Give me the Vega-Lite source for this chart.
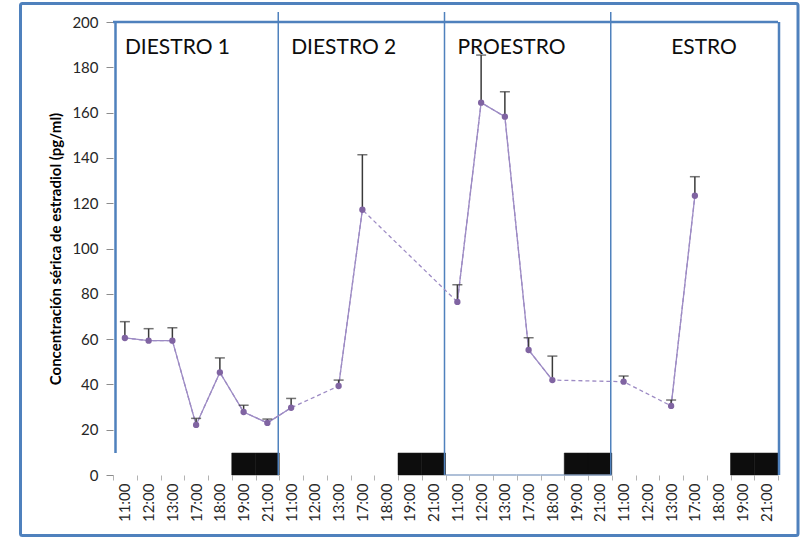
{
  "$schema": "https://vega.github.io/schema/vega-lite/v6.json",
  "width": 665,
  "height": 453,
  "autosize": {"type": "none"},
  "padding": {"left": 113, "top": 22, "right": 25, "bottom": 64},
  "config": {
    "view": {"stroke": null},
    "font": "Lato",
    "axis": {"grid": false, "labelFont": "Lato", "titleFont": "Lato"}
  },
  "datasets": {
    "estradiol": [
      {"punto": "1 11:00", "fase": "DIESTRO 1", "hora": "11:00", "media": 60.5, "ee": 7.2},
      {"punto": "1 12:00", "fase": "DIESTRO 1", "hora": "12:00", "media": 59.3, "ee": 5.3},
      {"punto": "1 13:00", "fase": "DIESTRO 1", "hora": "13:00", "media": 59.3, "ee": 5.7},
      {"punto": "1 17:00", "fase": "DIESTRO 1", "hora": "17:00", "media": 22.1, "ee": 2.9},
      {"punto": "1 18:00", "fase": "DIESTRO 1", "hora": "18:00", "media": 45.3, "ee": 6.4},
      {"punto": "1 19:00", "fase": "DIESTRO 1", "hora": "19:00", "media": 27.8, "ee": 3.0},
      {"punto": "1 21:00", "fase": "DIESTRO 1", "hora": "21:00", "media": 23.0, "ee": 1.7},
      {"punto": "2 11:00", "fase": "DIESTRO 2", "hora": "11:00", "media": 29.7, "ee": 4.1},
      {"punto": "2 12:00", "fase": "DIESTRO 2", "hora": "12:00", "media": null, "ee": null},
      {"punto": "2 13:00", "fase": "DIESTRO 2", "hora": "13:00", "media": 39.3, "ee": 2.6},
      {"punto": "2 17:00", "fase": "DIESTRO 2", "hora": "17:00", "media": 117.1, "ee": 24.3},
      {"punto": "2 18:00", "fase": "DIESTRO 2", "hora": "18:00", "media": null, "ee": null},
      {"punto": "2 19:00", "fase": "DIESTRO 2", "hora": "19:00", "media": null, "ee": null},
      {"punto": "2 21:00", "fase": "DIESTRO 2", "hora": "21:00", "media": null, "ee": null},
      {"punto": "3 11:00", "fase": "PROESTRO", "hora": "11:00", "media": 76.4, "ee": 7.6},
      {"punto": "3 12:00", "fase": "PROESTRO", "hora": "12:00", "media": 164.4, "ee": 21.0},
      {"punto": "3 13:00", "fase": "PROESTRO", "hora": "13:00", "media": 158.2, "ee": 11.0},
      {"punto": "3 17:00", "fase": "PROESTRO", "hora": "17:00", "media": 55.2, "ee": 5.4},
      {"punto": "3 18:00", "fase": "PROESTRO", "hora": "18:00", "media": 41.9, "ee": 10.6},
      {"punto": "3 19:00", "fase": "PROESTRO", "hora": "19:00", "media": null, "ee": null},
      {"punto": "3 21:00", "fase": "PROESTRO", "hora": "21:00", "media": null, "ee": null},
      {"punto": "4 11:00", "fase": "ESTRO", "hora": "11:00", "media": 41.2, "ee": 2.5},
      {"punto": "4 12:00", "fase": "ESTRO", "hora": "12:00", "media": null, "ee": null},
      {"punto": "4 13:00", "fase": "ESTRO", "hora": "13:00", "media": 30.5, "ee": 2.6},
      {"punto": "4 17:00", "fase": "ESTRO", "hora": "17:00", "media": 123.3, "ee": 8.4},
      {"punto": "4 18:00", "fase": "ESTRO", "hora": "18:00", "media": null, "ee": null},
      {"punto": "4 19:00", "fase": "ESTRO", "hora": "19:00", "media": null, "ee": null},
      {"punto": "4 21:00", "fase": "ESTRO", "hora": "21:00", "media": null, "ee": null}
    ],
    "fases": [
      {"fase": "DIESTRO 1", "punto": "1 11:00"},
      {"fase": "DIESTRO 2", "punto": "2 11:00"},
      {"fase": "PROESTRO", "punto": "3 11:00"},
      {"fase": "ESTRO", "punto": "4 13:00"}
    ]
  },
  "resolve": {"scale": {"x": "independent"}},
  "layer": [
    {
      "description": "outer frame around the whole figure",
      "data": {"values": [{}]},
      "mark": {"type": "rect", "fillOpacity": 0, "stroke": "#4F81BD", "strokeWidth": 3, "cornerRadius": 2, "clip": false},
      "encoding": {
        "x": {"datum": -0.1391, "type": "quantitative", "scale": {"domain": [0, 1]}, "axis": null},
        "x2": {"datum": 1.0301},
        "y": {"datum": 208.2, "type": "quantitative"},
        "y2": {"datum": -26.7}
      }
    },
    {
      "description": "top edge of the phase boxes",
      "data": {"values": [{}]},
      "mark": {"type": "rule", "stroke": "#4F81BD", "strokeWidth": 2.5},
      "encoding": {
        "y": {"datum": 200, "type": "quantitative"}
      }
    },
    {
      "data": {"name": "estradiol"},
      "encoding": {
        "x": {
          "field": "punto",
          "type": "ordinal",
          "title": null,
          "scale": {
            "type": "band",
            "paddingInner": 0,
            "paddingOuter": 0,
            "domain": [
              "1 11:00", "1 12:00", "1 13:00", "1 17:00", "1 18:00", "1 19:00", "1 21:00",
              "2 11:00", "2 12:00", "2 13:00", "2 17:00", "2 18:00", "2 19:00", "2 21:00",
              "3 11:00", "3 12:00", "3 13:00", "3 17:00", "3 18:00", "3 19:00", "3 21:00",
              "4 11:00", "4 12:00", "4 13:00", "4 17:00", "4 18:00", "4 19:00", "4 21:00"
            ]
          },
          "axis": {
            "labelExpr": "split(datum.value, ' ')[1]",
            "labelAngle": -90,
            "labelFontSize": 15,
            "labelColor": "#262626",
            "labelPadding": 3,
            "tickBand": "extent",
            "tickSize": 5,
            "tickColor": "#b3b3b3",
            "domain": false
          }
        }
      },
      "layer": [
        {
          "description": "dark period bars (19:00-21:00)",
          "transform": [{"filter": "datum.hora == '19:00' || datum.hora == '21:00'"}],
          "mark": {"type": "bar", "color": "#0d0d0d", "stroke": "#0d0d0d", "strokeWidth": 0.5},
          "encoding": {
            "y": {"datum": 0, "type": "quantitative"},
            "y2": {"datum": 9.7}
          }
        },
        {
          "description": "bottom edge of the PROESTRO box",
          "transform": [{"filter": "datum.fase == 'PROESTRO'"}],
          "mark": {"type": "bar", "color": "#8aa3c6"},
          "encoding": {
            "y": {"datum": -0.3, "type": "quantitative"},
            "y2": {"datum": 0.3}
          }
        },
        {
          "description": "phase dividers",
          "transform": [{"filter": "datum.hora == '11:00' && datum.fase != 'DIESTRO 1'"}],
          "mark": {"type": "rule", "stroke": "#4F81BD", "strokeWidth": 1.5, "xOffset": -1, "clip": false},
          "encoding": {
            "x": {"field": "punto", "type": "ordinal", "bandPosition": 0},
            "y": {"datum": 0, "type": "quantitative"},
            "y2": {"datum": 204.4}
          }
        },
        {
          "description": "left edge of the first box",
          "transform": [{"filter": "datum.punto == '1 11:00'"}],
          "mark": {"type": "rule", "stroke": "#4F81BD", "strokeWidth": 2.5, "xOffset": 2.5},
          "encoding": {
            "x": {"field": "punto", "type": "ordinal", "bandPosition": 0},
            "y": {"datum": 9.7, "type": "quantitative"},
            "y2": {"datum": 200}
          }
        },
        {
          "description": "right edge of the last box",
          "transform": [{"filter": "datum.punto == '4 21:00'"}],
          "mark": {"type": "rule", "stroke": "#4F81BD", "strokeWidth": 2.5, "xOffset": 1, "clip": false},
          "encoding": {
            "x": {"field": "punto", "type": "ordinal", "bandPosition": 1},
            "y": {"datum": 0, "type": "quantitative"},
            "y2": {"datum": 200}
          }
        },
        {
          "description": "dashed connection across missing times",
          "transform": [{"filter": "datum.media != null"}],
          "mark": {"type": "line", "color": "#9d8bc4", "strokeWidth": 1.3, "strokeDash": [4, 3]},
          "encoding": {
            "y": {"field": "media", "type": "quantitative"}
          }
        },
        {
          "description": "solid line between consecutive times",
          "mark": {"type": "line", "color": "#9d8bc4", "strokeWidth": 1.3},
          "encoding": {
            "y": {"field": "media", "type": "quantitative"}
          }
        },
        {
          "description": "upper error bars",
          "transform": [
            {"filter": "datum.media != null"},
            {"calculate": "datum.media + datum.ee", "as": "sup"}
          ],
          "mark": {"type": "rule", "color": "#3a3a3a", "strokeWidth": 1.5},
          "encoding": {
            "y": {"field": "media", "type": "quantitative"},
            "y2": {"field": "sup"}
          }
        },
        {
          "description": "error bar caps",
          "transform": [
            {"filter": "datum.media != null"},
            {"calculate": "datum.media + datum.ee", "as": "sup"}
          ],
          "mark": {"type": "tick", "orient": "horizontal", "size": 10, "thickness": 1.5, "color": "#3a3a3a"},
          "encoding": {
            "y": {"field": "sup", "type": "quantitative"}
          }
        },
        {
          "description": "means",
          "transform": [{"filter": "datum.media != null"}],
          "mark": {"type": "point", "filled": true, "color": "#8064A2", "opacity": 1, "size": 40},
          "encoding": {
            "y": {
              "field": "media",
              "type": "quantitative",
              "scale": {"domain": [0, 200], "nice": false},
              "axis": {
                "values": [0, 20, 40, 60, 80, 100, 120, 140, 160, 180, 200],
                "title": "Concentración sérica de estradiol (pg/ml)",
                "titleFontSize": 15,
                "titleFontWeight": "bold",
                "titleColor": "#000000",
                "titlePadding": 8,
                "labelFontSize": 15,
                "labelColor": "#262626",
                "labelPadding": 8,
                "tickSize": 7,
                "tickColor": "#8c8c8c",
                "domain": false
              }
            }
          }
        },
        {
          "description": "phase names",
          "data": {"name": "fases"},
          "mark": {"type": "text", "align": "left", "baseline": "alphabetic", "fontSize": 21, "color": "#0d0d0d", "font": "Lato"},
          "encoding": {
            "y": {"datum": 185.9, "type": "quantitative"},
            "text": {"field": "fase"}
          }
        }
      ]
    }
  ]
}
